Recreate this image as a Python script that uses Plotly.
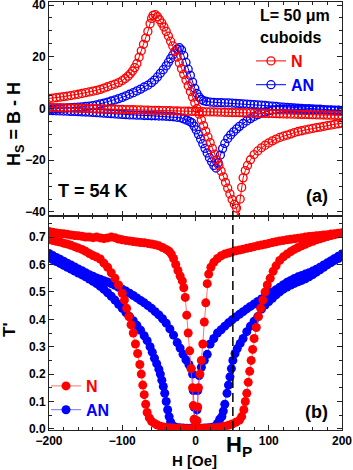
import plotly.graph_objects as go

# ---- panel (a): Hs = B - H vs H, open circles ----
# N: branch with the peak / linear drop / trough
a_N_loop = [(-200, 3.9), (-195, 4.0), (-190, 4.2), (-185, 4.4), (-180, 4.6), (-175, 4.8),
            (-170, 5.0), (-165, 5.3), (-160, 5.5), (-155, 5.8), (-150, 6.1), (-145, 6.4),
            (-140, 6.7), (-135, 7.0), (-130, 7.4), (-125, 7.9), (-120, 8.4), (-115, 8.9),
            (-110, 9.4), (-105, 10.0), (-100, 10.8), (-96, 11.6), (-92, 12.5), (-89, 13.4),
            (-86, 14.5), (-83, 15.8), (-80, 17.4), (-77, 19.8), (-74, 22.3), (-71, 24.8),
            (-68, 27.2), (-65, 29.8), (-62, 32.8), (-60, 34.8), (-58, 36.0), (-55, 36.3),
            (-52, 35.5), (-49, 34.3), (-46, 33.0), (-43, 31.5), (-40, 29.8), (-37, 28.0),
            (-34, 26.0), (-31, 24.2), (-28, 22.1), (-25, 19.9), (-22, 17.6), (-19, 15.4),
            (-16, 13.2), (-13, 11.0), (-10, 8.8), (-7, 6.6), (-4, 4.4), (-1, 2.2), (2, 0.0),
            (5, -2.2), (8, -4.4), (11, -6.6), (14, -8.8), (17, -11.0), (20, -13.2),
            (23, -15.4), (26, -17.6), (29, -19.8), (32, -22.0), (35, -24.2), (38, -26.4),
            (41, -28.6), (44, -30.8), (47, -33.0), (50, -35.2), (53, -37.0), (56, -38.5),
            (58, -43.0), (61, -35.0), (63, -30.5), (65, -26.8), (68, -24.0), (71, -22.0),
            (75, -19.8), (80, -17.8), (85, -16.4), (90, -15.2), (95, -14.2), (100, -13.3),
            (105, -12.5), (110, -11.8), (115, -11.2), (120, -10.7), (125, -10.3), (130, -9.8),
            (135, -9.3), (140, -8.9), (145, -8.6), (150, -8.3), (155, -8.0), (160, -7.7),
            (165, -7.4), (170, -7.2), (175, -6.9), (180, -6.6), (185, -6.4), (190, -6.1),
            (195, -5.9), (200, -5.7)]
# N: nearly flat branch
a_N_flat = [(-200, 0.40), (-195, 0.36), (-190, 0.32), (-185, 0.28), (-180, 0.25), (-175, 0.21),
            (-170, 0.17), (-165, 0.13), (-160, 0.09), (-155, 0.05), (-150, 0.01), (-145, -0.03),
            (-140, -0.07), (-135, -0.10), (-130, -0.14), (-125, -0.18), (-120, -0.22),
            (-115, -0.26), (-110, -0.30), (-105, -0.34), (-100, -0.38), (-95, -0.41),
            (-90, -0.45), (-85, -0.49), (-80, -0.53), (-75, -0.57), (-70, -0.61), (-65, -0.65),
            (-60, -0.69), (-55, -0.72), (-50, -0.76), (-45, -0.80), (-40, -0.84), (-35, -0.88),
            (-30, -0.92), (-25, -0.96), (-20, -1.00), (-15, -1.03), (-10, -1.07), (-5, -1.11),
            (0, -1.15), (5, -1.19), (10, -1.23), (15, -1.27), (20, -1.31), (25, -1.34),
            (30, -1.38), (35, -1.42), (40, -1.46), (45, -1.50), (50, -1.54), (55, -1.58),
            (60, -1.62), (65, -1.65), (70, -1.69), (75, -1.73), (80, -1.77), (85, -1.81),
            (90, -1.85), (95, -1.89), (100, -1.93), (105, -1.96), (110, -2.00), (115, -2.04),
            (120, -2.08), (125, -2.12), (130, -2.16), (135, -2.20), (140, -2.24), (145, -2.27),
            (150, -2.31), (155, -2.35), (160, -2.39), (165, -2.43), (170, -2.47), (175, -2.51),
            (180, -2.55), (185, -2.58), (190, -2.62), (195, -2.66), (200, -2.70)]
# AN: branch with the positive peak
a_AN_up = [(-200, -0.3), (-195, -0.2), (-190, -0.1), (-185, 0.0), (-180, 0.1), (-175, 0.2),
           (-170, 0.3), (-165, 0.4), (-160, 0.5), (-155, 0.6), (-150, 0.8), (-145, 0.9),
           (-140, 1.1), (-135, 1.4), (-130, 1.8), (-125, 2.1), (-120, 2.5), (-115, 2.9),
           (-110, 3.3), (-105, 3.8), (-100, 4.3), (-95, 4.9), (-90, 5.5), (-85, 6.1),
           (-80, 6.8), (-75, 7.5), (-70, 8.3), (-65, 9.0), (-60, 10.0), (-56, 11.0),
           (-52, 12.2), (-48, 13.6), (-44, 15.0), (-40, 16.5), (-37, 17.9), (-34, 19.3),
           (-31, 20.7), (-28, 22.0), (-25, 23.0), (-22, 23.5), (-19, 22.6), (-16, 20.5),
           (-13, 17.8), (-10, 15.2), (-7, 12.8), (-4, 10.2), (-1, 7.8), (2, 5.8), (5, 4.4),
           (8, 3.5), (11, 3.0), (15, 2.7), (20, 2.5), (25, 2.4), (30, 2.3), (35, 2.3),
           (40, 2.2), (45, 2.2), (50, 2.1), (55, 2.0), (60, 1.9), (65, 1.8), (70, 1.7),
           (75, 1.6), (80, 1.5), (85, 1.4), (90, 1.3), (95, 1.2), (100, 1.0), (105, 0.9),
           (110, 0.8), (115, 0.6), (120, 0.5), (125, 0.4), (130, 0.3), (135, 0.2), (140, 0.1),
           (145, 0.0), (150, -0.1), (155, -0.1), (160, -0.2), (165, -0.3), (170, -0.3),
           (175, -0.4), (180, -0.5), (185, -0.5), (190, -0.6), (195, -0.6), (200, -0.7)]
# AN: branch with the negative dip
a_AN_down = [(-200, -0.8), (-195, -0.85), (-190, -0.9), (-185, -0.95), (-180, -1.0),
             (-175, -1.05), (-170, -1.1), (-165, -1.15), (-160, -1.2), (-155, -1.3),
             (-150, -1.35), (-145, -1.4), (-140, -1.5), (-135, -1.6), (-130, -1.7),
             (-125, -1.8), (-120, -1.9), (-115, -2.0), (-110, -2.1), (-105, -2.2), (-100, -2.3),
             (-95, -2.4), (-90, -2.5), (-85, -2.5), (-80, -2.6), (-75, -2.6), (-70, -2.7),
             (-65, -2.7), (-60, -2.8), (-55, -2.8), (-50, -2.9), (-45, -2.9), (-40, -3.0),
             (-35, -3.1), (-30, -3.2), (-25, -3.4), (-20, -3.6), (-16, -4.0), (-12, -4.5),
             (-8, -5.0), (-5, -5.5), (-2, -6.8), (1, -8.3), (4, -10.0), (7, -11.8),
             (10, -13.6), (13, -15.4), (16, -17.2), (19, -19.0), (22, -20.6), (25, -22.0),
             (28, -23.0), (31, -21.0), (34, -18.0), (37, -15.5), (40, -13.5), (44, -11.6),
             (48, -10.2), (52, -9.0), (56, -7.9), (60, -6.9), (65, -5.8), (70, -4.8),
             (75, -3.9), (80, -3.1), (85, -2.4), (90, -1.8), (95, -1.3), (100, -0.9),
             (105, -0.6), (110, -0.4), (115, -0.3), (120, -0.3), (125, -0.3), (130, -0.3),
             (135, -0.35), (140, -0.4), (145, -0.4), (150, -0.45), (155, -0.5), (160, -0.5),
             (165, -0.55), (170, -0.6), (175, -0.6), (180, -0.65), (185, -0.7), (190, -0.7),
             (195, -0.75), (200, -0.8)]

# ---- panel (b): T' vs H, filled circles ----
b_N_v = [(-200, .720), (-195, .718), (-190, .715), (-185, .713), (-180, .712), (-175, .710),
         (-170, .708), (-165, .706), (-160, .705), (-155, .703), (-150, .700), (-145, .700),
         (-140, .698), (-135, .700), (-130, .697), (-125, .695), (-120, .697), (-115, .700),
         (-110, .698), (-105, .693), (-100, .690), (-95, .688), (-90, .686), (-85, .684),
         (-80, .682), (-75, .680), (-70, .679), (-65, .677), (-60, .675), (-55, .672),
         (-50, .668), (-45, .662), (-40, .655), (-36, .648), (-33, .638), (-30, .622),
         (-27, .600), (-24, .578), (-21, .558), (-18, .540), (-16, .515), (-14, .480),
         (-12, .415), (-10, .350), (-8, .285), (-6, .220), (-4, .150), (-3, .085), (-2, .035),
         (0, .010), (2, .030), (3, .080), (4, .150), (6, .200), (8, .250), (10, .310),
         (12, .390), (14, .460), (16, .530), (18, .565), (21, .590), (25, .608), (30, .622),
         (35, .632), (40, .638), (45, .642), (50, .646), (55, .650), (60, .653), (65, .656),
         (70, .659), (75, .662), (80, .665), (85, .668), (90, .671), (95, .674), (100, .677),
         (105, .680), (110, .683), (115, .686), (120, .688), (125, .690), (130, .692),
         (135, .694), (140, .696), (145, .698), (150, .700), (155, .702), (160, .703),
         (165, .705), (170, .706), (175, .708), (180, .709), (185, .711), (190, .712),
         (195, .714), (200, .716)]
b_N_low = [(-200, .690), (-195, .688), (-190, .685), (-185, .682), (-180, .678), (-175, .675),
           (-170, .670), (-165, .665), (-160, .660), (-155, .655), (-150, .648), (-145, .640),
           (-140, .633), (-135, .627), (-130, .620), (-125, .605), (-120, .590), (-115, .570),
           (-110, .550), (-105, .525), (-100, .495), (-97, .470), (-94, .440), (-91, .410),
           (-88, .380), (-85, .350), (-82, .310), (-79, .275), (-76, .235), (-74, .200),
           (-72, .160), (-70, .125), (-68, .090), (-66, .060), (-63, .040), (-60, .028),
           (-56, .020), (-52, .014), (-48, .010), (-44, .007), (-40, .005), (-35, .004),
           (-30, .003), (-25, .002), (-20, .002), (-15, .001), (-10, .001), (-5, .001),
           (0, .001), (5, .001), (10, .002), (15, .002), (20, .003), (25, .004), (30, .005),
           (35, .007), (40, .010), (45, .013), (50, .018), (55, .024), (60, .032), (63, .045),
           (66, .070), (68, .100), (70, .130), (72, .170), (74, .210), (76, .250), (78, .290),
           (80, .330), (83, .370), (86, .410), (89, .440), (92, .470), (95, .500), (98, .525),
           (102, .550), (106, .575), (110, .595), (115, .615), (120, .628), (125, .638),
           (130, .647), (135, .655), (140, .662), (145, .668), (150, .674), (155, .680),
           (160, .685), (165, .690), (170, .694), (175, .698), (180, .702), (185, .706),
           (190, .709), (195, .712), (200, .714)]
b_AN_v = [(-200, .640), (-195, .633), (-190, .626), (-185, .619), (-180, .612), (-175, .605),
          (-170, .598), (-165, .591), (-160, .584), (-155, .577), (-150, .570), (-145, .563),
          (-140, .557), (-135, .551), (-130, .546), (-125, .541), (-120, .536), (-115, .530),
          (-110, .524), (-105, .517), (-100, .510), (-95, .503), (-90, .495), (-85, .487),
          (-80, .478), (-75, .469), (-70, .460), (-65, .450), (-60, .440), (-55, .428),
          (-50, .416), (-45, .402), (-40, .386), (-35, .365), (-30, .342), (-25, .315),
          (-21, .295), (-17, .272), (-13, .252), (-9, .235), (-6, .220), (-4, .200),
          (-3, .140), (-2, .080), (-1, .030), (1, .030), (2, .070), (3, .140), (5, .195),
          (8, .225), (12, .250), (16, .272), (20, .310), (25, .330), (30, .350), (35, .362),
          (40, .375), (45, .387), (50, .398), (55, .408), (60, .418), (65, .428), (70, .438),
          (75, .447), (80, .456), (85, .465), (90, .474), (95, .483), (100, .492), (105, .500),
          (110, .508), (115, .517), (120, .526), (125, .535), (130, .542), (135, .549),
          (140, .555), (145, .560), (150, .565), (155, .570), (160, .576), (165, .583),
          (170, .590), (175, .598), (180, .606), (185, .614), (190, .622), (195, .630),
          (200, .638)]
b_AN_low = [(-200, .625), (-195, .618), (-190, .611), (-185, .604), (-180, .597), (-175, .590),
            (-170, .583), (-165, .576), (-160, .569), (-155, .562), (-150, .555), (-145, .547),
            (-140, .539), (-135, .530), (-130, .520), (-125, .509), (-120, .497), (-115, .484),
            (-110, .470), (-105, .455), (-100, .440), (-95, .425), (-90, .410), (-85, .395),
            (-80, .378), (-75, .360), (-70, .340), (-66, .322), (-62, .300), (-59, .280),
            (-56, .258), (-53, .238), (-50, .218), (-48, .200), (-46, .178), (-44, .155),
            (-42, .130), (-40, .100), (-38, .070), (-36, .045), (-34, .025), (-31, .012),
            (-27, .006), (-22, .004), (-17, .003), (-12, .002), (-7, .002), (-2, .002),
            (3, .002), (8, .002), (13, .003), (18, .004), (23, .006), (27, .010), (30, .020),
            (33, .035), (36, .045), (38, .065), (40, .090), (43, .130), (45, .160), (47, .190),
            (49, .220), (51, .250), (54, .275), (57, .293), (61, .312), (65, .330), (70, .355),
            (75, .375), (80, .393), (85, .410), (90, .437), (95, .452), (100, .465),
            (105, .477), (110, .489), (115, .500), (120, .510), (125, .518), (130, .525),
            (135, .531), (140, .537), (145, .542), (150, .548), (155, .555), (160, .563),
            (165, .572), (170, .581), (175, .590), (180, .599), (185, .607), (190, .615),
            (195, .622), (200, .630)]

H_P = 51          # field marked by the dashed line
RED = '#ff0000'
BLUE = '#0000ff'
FONT = 'Arial, Liberation Sans, sans-serif'

# plot area in pixels (353 x 470 page)
L, R, T, B = 49, 11, 2, 40
W, HGT = 353, 470
PW, PH = W - L - R, HGT - T - B


def X(px):
    return (px - L) / PW


def Y(py):
    return (HGT - B - py) / PH


ya_range = [-41.55, 41.16]
yb_range = [-0.004, 0.777]

fig = go.Figure()


def add(branch, color, xa, ya, name, legend, filled, show, rank):
    h, v = zip(*branch)
    if filled:
        marker = dict(symbol='circle', size=9, color=color, line=dict(width=0))
        line = dict(color='rgba(255,80,80,0.8)' if color == RED else 'rgba(80,80,255,0.8)', width=1)
    else:
        marker = dict(symbol='circle-open', size=8, color=color, line=dict(width=1.3, color=color))
        line = dict(color=color, width=1)
    fig.add_trace(go.Scatter(x=h, y=v, mode='lines+markers', xaxis=xa, yaxis=ya,
                             marker=marker, line=line, name=name, legend=legend,
                             legendgroup=legend + name, showlegend=show, legendrank=rank))


def lab(text, color):
    return '<span style="color:%s">%s</span>' % (color, text)


add(a_AN_up, BLUE, 'x', 'y', lab('AN', BLUE), 'legend', False, True, 2)
add(a_AN_down, BLUE, 'x', 'y', lab('AN', BLUE), 'legend', False, False, 2)
add(a_N_flat, RED, 'x', 'y', lab('N', RED), 'legend', False, False, 1)
add(a_N_loop, RED, 'x', 'y', lab('N', RED), 'legend', False, True, 1)

add(b_AN_v, BLUE, 'x2', 'y2', lab('AN', BLUE), 'legend2', True, True, 2)
add(b_AN_low, BLUE, 'x2', 'y2', lab('AN', BLUE), 'legend2', True, False, 2)
add(b_N_low, RED, 'x2', 'y2', lab('N', RED), 'legend2', True, False, 1)
add(b_N_v, RED, 'x2', 'y2', lab('N', RED), 'legend2', True, True, 1)

axis_common = dict(showline=True, linecolor='#222', linewidth=1, mirror='allticks',
                   ticks='inside', ticklen=5, tickwidth=1, tickcolor='#222',
                   showgrid=False, zeroline=False, automargin=False,
                   ticklabeloverflow='allow',
                   tickfont=dict(family=FONT, size=12, color='black', weight='bold'))

fig.update_layout(
    width=W, height=HGT,
    margin=dict(l=L, r=R, t=T, b=B, autoexpand=False),
    plot_bgcolor='white', paper_bgcolor='white',
    font=dict(family=FONT, color='black', weight='bold'),
    xaxis=dict(domain=[0, 1], anchor='y', range=[-200, 200], dtick=100, tick0=0,
               showticklabels=False,
               minor=dict(dtick=20, ticks='inside', ticklen=3, tickcolor='#222'),
               **axis_common),
    yaxis=dict(domain=[0.5, 1], anchor='x', range=ya_range, dtick=20, tick0=0,
               minor=dict(dtick=5, ticks='inside', ticklen=3, tickcolor='#222'),
               **axis_common),
    xaxis2=dict(domain=[0, 1], anchor='y2', range=[-200, 200], dtick=100, tick0=0,
                matches='x',
                minor=dict(dtick=20, ticks='inside', ticklen=3, tickcolor='#222'),
                **axis_common),
    yaxis2=dict(domain=[0, 0.5], anchor='x2', range=yb_range, dtick=0.1, tick0=0,
                tickformat='.1f',
                minor=dict(dtick=0.05, ticks='inside', ticklen=3, tickcolor='#222'),
                **axis_common),
    legend=dict(x=X(251), y=Y(44), xanchor='left', yanchor='top',
                bgcolor='rgba(0,0,0,0)', tracegroupgap=0,
                font=dict(family=FONT, size=16, weight='bold')),
    legend2=dict(x=X(46), y=Y(369), xanchor='left', yanchor='top',
                 bgcolor='rgba(0,0,0,0)', tracegroupgap=0,
                 font=dict(family=FONT, size=16, weight='bold')),
)

# dashed marker at H_P spanning the lower panel and the bottom of the upper one
y_top = 0.5 + 0.5 * (-37 - ya_range[0]) / (ya_range[1] - ya_range[0])
fig.add_shape(type='line', xref='x2', yref='paper', x0=H_P, x1=H_P, y0=0, y1=y_top,
              line=dict(color='black', width=1.5, dash='9px,5px'))

ann = []


def text(s, x, y, size, xref='paper', yref='paper', xanchor='center', yanchor='middle',
         angle=0):
    ann.append(dict(text=s, x=x, y=y, xref=xref, yref=yref, xanchor=xanchor,
                    yanchor=yanchor, textangle=angle, showarrow=False,
                    font=dict(family=FONT, size=size, color='black', weight='bold')))


text('L= 50 μm', 136, 35.9, 16, 'x', 'y')
text('cuboids', 130, 27.4, 16, 'x', 'y')
text('T = 54 K', -191, -32, 18, 'x', 'y', xanchor='left')
text('(a)', 184, -34, 18, 'x', 'y', xanchor='right')
text('(b)', 184, 0.062, 18, 'x2', 'y2', xanchor='right')
text('H<sub>S</sub> = B - H', X(16), Y(124), 18, angle=-90)
text("T'", X(9), Y(330), 17, angle=-90)
text('H [Oe]', X(194), Y(460), 15)
text('H<sub>P</sub>', X(224), Y(446), 22, xanchor='left')
fig.update_layout(annotations=ann)

# the page body keeps its default 8px margin otherwise
fig.write_html("out.html", config={'displayModeBar': False},
               post_script="document.body.style.margin='0';")
